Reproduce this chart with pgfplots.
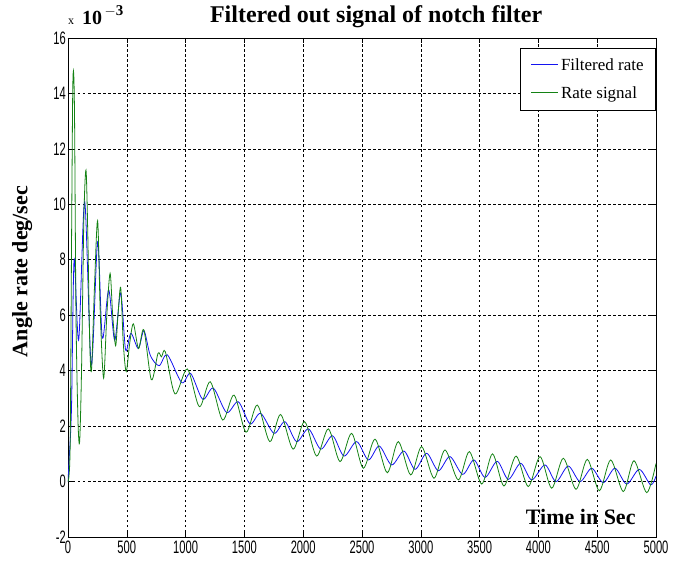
\documentclass[border=0pt]{standalone}
\usepackage{fontspec}
\setmainfont{Liberation Serif}
\setsansfont{Liberation Sans}
\usepackage{pgfplots}
\pgfplotsset{compat=1.18}
\definecolor{mgreen}{RGB}{20,130,20}
\definecolor{mblue}{RGB}{20,20,240}
\begin{document}
\begin{tikzpicture}
\begin{axis}[
  name=ax,
  scale only axis,
  width=588pt, height=499pt,
  xmin=0, xmax=5000, ymin=-2, ymax=16,
  xtick={0,500,...,5000}, ytick={-2,0,...,16},
  scaled x ticks=false,
  /pgf/number format/1000 sep={},
  /pgf/number format/assume math mode=true,
  tick align=inside,
  major tick length=5pt,
  tick style={black, line width=0.6pt},
  grid=major,
  major grid style={black, line width=0.6pt, dash pattern=on 2.5pt off 2.5pt},
  axis line style={black, line width=0.8pt},
  tick label style={font=\sffamily\fontsize{18}{18}\selectfont, xscale=0.62},
  title={Filtered out signal of notch filter},
  title style={font=\bfseries\fontsize{24}{24}\selectfont, at={(axis description cs:0.524,1)}, anchor=base, yshift=9pt},
  xlabel={Time in Sec},
  xlabel style={font=\bfseries\fontsize{22}{22}\selectfont, at={(axis description cs:0.872,0.04)}, anchor=center},
  ylabel={Angle rate deg/sec},
  ylabel style={font=\bfseries\fontsize{22}{22}\selectfont, at={(axis description cs:-0.078,0.532)}, anchor=center},
  legend style={at={(1,0.98)}, anchor=north east, line width=0.8pt, fill=white,
    font=\fontsize{17}{17}\selectfont, inner xsep=10pt, inner ysep=8pt, row sep=11pt, cells={anchor=west}},
  legend image code/.code={\draw[#1, line width=1.3pt] (0pt,0.5pt) -- (27pt,0.5pt);},
]
% filtered output (blue)
\addplot[draw=mblue, line width=0.8pt, smooth, tension=0.5] coordinates {
(0,0) (11,0.9) (30,2.7) (52,8.0) (91,5.1) (142,10.1) (198,4.2) (252,8.65)
(292,5.17) (346,6.91) (397,5.1) (448,6.8) (490,4.75) (535,5.35) (598,4.8)
(646,5.44) (700,4.55) (775,4.18) (845,4.57) (967,3.57) (1043,3.9) (1145,2.97)
(1236,3.37) (1349,2.49) (1448,2.88) (1548,2.08) (1638,2.46) (1752,1.74)
(1845,2.16) (1944,1.44) (2045,1.9) (2149,1.17) (2250,1.65) (2347,0.92)
(2455,1.44) (2554,0.78) (2647,1.28) (2752,0.6) (2857,1.1) (2951,0.44)
(3050,1.02) (3149,0.39) (3248,0.9) (3356,0.26) (3452,0.78) (3546,0.15)
(3650,0.73) (3744,0.08) (3849,0.66) (3943,0.06) (4056,0.6) (4150,0.0)
(4254,0.56) (4354,0.0) (4453,0.48) (4552,-0.04) (4651,0.48) (4751,-0.09)
(4858,0.44) (4955,-0.12) (5000,0.2)
};
\addlegendentry{Filtered rate}
% rate signal (green)
\addplot[draw=mgreen, line width=0.8pt, smooth, tension=0.5] coordinates {
(0,0) (18,1.2) (30,8.5) (40,14) (48,14.75) (56,13) (68,6) (85,2.2) (99,1.44)
(115,4) (135,9.5) (153,11.24) (168,9) (185,5) (200,4.03) (225,7) (252,9.41)
(275,6) (303,3.73) (330,6) (358,7.51) (380,6) (405,4.9) (425,6) (448,7.0)
(470,5) (495,3.97) (525,5) (556,5.69) (600,4.8) (645,5.47) (709,3.67)
(765,4.62) (795,4.5) (828,4.68) (910,3.16) (1015,4.06) (1117,2.7) (1210,3.6)
(1315,2.22) (1412,3.12) (1514,1.78) (1610,2.76) (1716,1.44) (1808,2.42)
(1914,1.17) (2012,2.16) (2114,0.92) (2214,1.9) (2313,0.72) (2412,1.74)
(2511,0.48) (2611,1.53) (2715,0.32) (2809,1.44) (2914,0.24) (3007,1.26)
(3112,0.12) (3206,1.14) (3319,0.06) (3413,1.08) (3518,-0.09) (3610,1.0)
(3707,-0.16) (3810,0.92) (3914,-0.18) (4014,0.9) (4113,-0.24) (4212,0.84)
(4320,-0.28) (4416,0.8) (4518,-0.33) (4615,0.78) (4722,-0.36) (4813,0.75)
(4921,-0.4) (5000,0.65)
};
\addlegendentry{Rate signal}
\end{axis}
\node[anchor=base west, inner sep=0pt] at ([yshift=13pt]ax.north west)
  {{\fontsize{12}{12}\selectfont x}\hspace{8pt}{\bfseries\fontsize{20}{20}\selectfont 10}\raisebox{9pt}{\bfseries\fontsize{15}{15}\selectfont\,$-$3}};
\path (ax.south west) ++(-68pt,-26pt) coordinate (bl) (ax.north east) ++(25pt,38pt) coordinate (tr);
\pgfresetboundingbox
\path (bl) rectangle (tr);
\end{tikzpicture}
\end{document}
